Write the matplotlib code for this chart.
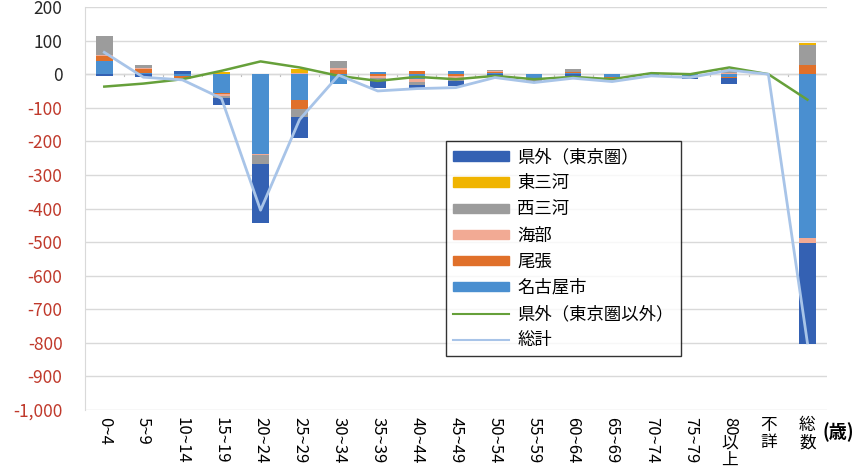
import numpy as np
import matplotlib.pyplot as plt
from matplotlib.patches import Patch
from matplotlib.lines import Line2D
import matplotlib.transforms as mtransforms

plt.rcParams['font.family'] = ['Noto Sans CJK JP', 'DejaVu Sans']

# age groups
ages = ['0~4', '5~9', '10~14', '15~19', '20~24', '25~29', '30~34', '35~39',
        '40~44', '45~49', '50~54', '55~59', '60~64', '65~69', '70~74', '75~79',
        '80以上', '不詳', '総数']

# net migration by destination/origin (persons)
nagoya = [38, 3, -5, -55, -237, -77, -30, 7, -15, 10, 3, -12, 3, -8, -3, -5, -8, 0, -488]
owari = [15, 12, -5, -5, -2, -27, 12, -5, 10, -5, 3, -3, 2, -2, 1, -2, -3, 0, 28]
kaifu = [5, 3, -3, -6, -3, 4, 6, -5, -8, -5, 2, -2, 2, -2, 0, -1, 3, 0, -15]
nishimikawa = [55, 9, 0, -4, -25, -23, 22, -10, -10, -10, 5, -3, 8, -2, 1, -3, 5, 0, 58]
higashimikawa = [0, 0, 0, 5, 0, 12, 0, 0, 0, 0, 0, 0, 0, 0, 1, 0, 8, 0, 7]
tokyo = [-5, -8, 8, -23, -175, -63, 0, -20, -10, -15, -8, -4, -6, -1, 0, -2, -17, 0, -300]
other_pref = [-37, -28, -15, 10, 38, 20, -5, -20, -8, -15, -5, -15, -8, -15, 3, 0, 20, 0, -76]
total = [65, -9, -17, -72, -405, -135, -3, -50, -43, -40, -10, -25, -12, -22, -5, -10, 12, 0, -800]

series = [
    ('名古屋市', nagoya, '#4a8fd0'),
    ('尾張', owari, '#e0702a'),
    ('海部', kaifu, '#f2aa94'),
    ('西三河', nishimikawa, '#9c9c9c'),
    ('東三河', higashimikawa, '#f0b400'),
    ('県外（東京圏）', tokyo, '#3461b3'),
]

x = np.arange(len(ages))

fig = plt.figure(figsize=(8.65, 4.67), dpi=100)
ax = fig.add_axes([0.098, 0.122, 0.858, 0.863])

pos_base = np.zeros(len(ages))
neg_base = np.zeros(len(ages))
for name, vals, color in series:
    v = np.array(vals, dtype=float)
    bottom = np.where(v >= 0, pos_base, neg_base)
    ax.bar(x, v, 0.42, bottom=bottom, color=color, zorder=2)
    pos_base += np.where(v >= 0, v, 0)
    neg_base += np.where(v < 0, v, 0)

ax.plot(x, other_pref, color='#66a03a', lw=1.8, zorder=3)
ax.plot(x, total, color='#a8c4e8', lw=2.0, zorder=3)

ax.set_xlim(-0.5, len(ages) - 0.5)
ax.set_ylim(-1000, 200)
yt = np.arange(-1000, 201, 100)
ax.set_yticks(yt)
ax.set_yticklabels([f'{v:,}' for v in yt], fontsize=12.5)
for lbl, v in zip(ax.get_yticklabels(), yt):
    lbl.set_color('#c0392b' if v < 0 else '#262626')
ax.tick_params(axis='y', length=0, pad=16)
ax.grid(axis='y', color='#d9d9d9', lw=1, zorder=0)

for s in ['top', 'right', 'bottom']:
    ax.spines[s].set_visible(False)
ax.spines['left'].set_color('#d9d9d9')

# category axis at zero with ticks between groups
ax.axhline(0, color='#d9d9d9', lw=1, zorder=1)
ax.set_xticks([])
for b in np.arange(0.5, len(ages) - 0.5, 1):
    ax.plot([b, b], [0, -5], color='#bfbfbf', lw=0.8, zorder=1)

# vertical category labels
trans = mtransforms.blended_transform_factory(ax.transData, ax.transAxes)
y0 = -0.018
for i, lab in enumerate(ages):
    if lab in ('不詳', '総数'):
        ax.text(i, y0, lab[0] + '\n' + lab[1], transform=trans, ha='center', va='top',
                fontsize=12, linespacing=1.0)
    elif lab.endswith('以上'):
        ax.text(i, y0, lab[:-2], transform=trans, ha='center', va='top',
                rotation=270, fontsize=12)
        ax.text(i, y0 - 0.043, '以\n上', transform=trans, ha='center', va='top',
                fontsize=12, linespacing=1.0)
    else:
        ax.text(i, y0, lab, transform=trans, ha='center', va='top',
                rotation=270, fontsize=12)

fig.text(0.951, 0.075, '(歳)', ha='left', va='center', fontsize=13, fontweight='bold')

handles = [Patch(color=c) for _, _, c in series[::-1]]
labels = [n for n, _, _ in series[::-1]]
handles += [Line2D([], [], color='#66a03a', lw=1.5), Line2D([], [], color='#a8c4e8', lw=1.5)]
labels += ['県外（東京圏以外）', '総計']
leg = ax.legend(handles, labels, loc='upper left', bbox_to_anchor=(0.487, 0.667),
                fontsize=12.5, frameon=True, fancybox=False, edgecolor='black',
                handlelength=3.2, handleheight=0.45, labelspacing=0.47,
                borderpad=0.4, handletextpad=0.5, borderaxespad=0)
leg.get_frame().set_linewidth(1.0)

fig.savefig('out.png', dpi=100)
